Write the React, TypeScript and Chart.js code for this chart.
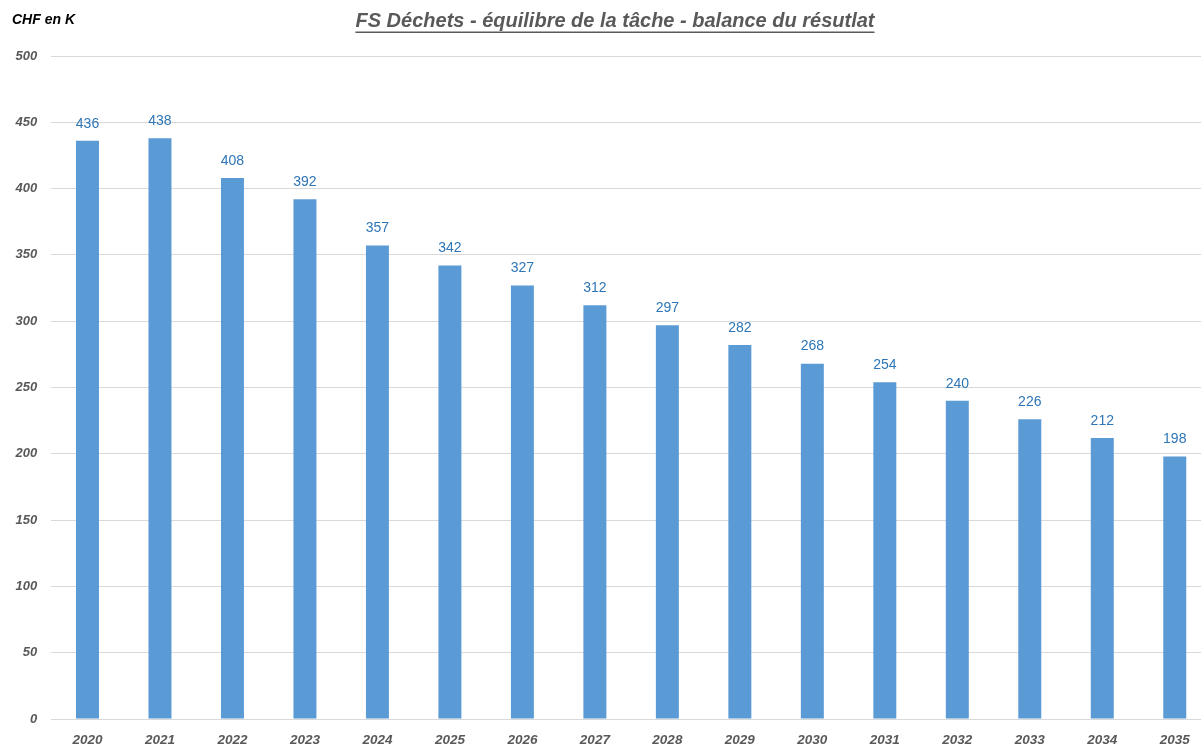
import React, { useEffect, useRef } from "react";
import { Chart, registerables } from "chart.js";

Chart.register(...registerables);

const categories = ["2020","2021","2022","2023","2024","2025","2026","2027","2028","2029","2030","2031","2032","2033","2034","2035"];
const values = [436, 438, 408, 392, 357, 342, 327, 312, 297, 282, 268, 254, 240, 226, 212, 198];
const titleText = "FS Déchets - équilibre de la tâche - balance du résutlat";
const unitText = "CHF en K";

const overlayPlugin = {
  id: "overlay",
  afterDatasetsDraw(chart: any) {
    const ctx = chart.ctx;
    const meta = chart.getDatasetMeta(0);
    ctx.save();
    ctx.font = "14px 'Liberation Sans', Arial, sans-serif";
    ctx.fillStyle = "#2E75B6";
    ctx.textAlign = "center";
    ctx.textBaseline = "bottom";
    meta.data.forEach((bar: any, i: number) => {
      ctx.fillText(String(values[i]), bar.x, bar.y - 10);
    });
    ctx.restore();
  },
  afterDraw(chart: any) {
    const ctx = chart.ctx;
    ctx.save();
    ctx.font = "italic bold 20px 'Liberation Sans', Arial, sans-serif";
    ctx.fillStyle = "#595959";
    ctx.textAlign = "center";
    ctx.textBaseline = "alphabetic";
    const cx = 615;
    ctx.fillText(titleText, cx, 27);
    const w = ctx.measureText(titleText).width;
    ctx.fillRect(cx - w / 2, 31.5, w, 1.5);
    ctx.font = "italic bold 14px 'Liberation Sans', Arial, sans-serif";
    ctx.fillStyle = "#000000";
    ctx.textAlign = "left";
    ctx.fillText(unitText, 12, 24);
    ctx.restore();
  },
};

export default function App() {
  const ref = useRef<HTMLCanvasElement>(null);
  useEffect(() => {
    document.body.style.margin = "0";
    document.body.style.overflow = "hidden";
    const chart = new Chart(ref.current!, {
      type: "bar",
      data: {
        labels: categories,
        datasets: [
          {
            data: values,
            backgroundColor: "#5B9BD5",
            barPercentage: 0.317,
            categoryPercentage: 1,
          },
        ],
      },
      options: {
        responsive: false,
        animation: false,
        layout: { padding: { top: 56, right: 0, left: 0, bottom: 0 } },
        plugins: { legend: { display: false }, tooltip: { enabled: false } },
        scales: {
          x: {
            grid: { display: false, drawTicks: false },
            border: { display: false },
            ticks: {
              padding: 13,
              color: "#595959",
              font: { family: "'Liberation Sans', Arial, sans-serif", size: 13.5, style: "italic", weight: "bold" },
              maxRotation: 0,
            },
            afterFit(scale: any) { scale.height = 28; },
          },
          y: {
            min: 0,
            max: 500,
            grid: { color: "#D9D9D9", drawTicks: false, lineWidth: 1 },
            border: { display: false },
            ticks: {
              stepSize: 50,
              padding: 14,
              color: "#595959",
              font: { family: "'Liberation Sans', Arial, sans-serif", size: 13, style: "italic", weight: "bold" },
            },
            afterFit(scale: any) { scale.width = 51.25; },
          },
        },
      },
      plugins: [overlayPlugin],
    });
    return () => chart.destroy();
  }, []);
  return (
    <div style={{ width: 1201, height: 747, overflow: "hidden", background: "#fff" }}>
      <canvas ref={ref} width={1211} height={747} style={{ display: "block" }} />
    </div>
  );
}
